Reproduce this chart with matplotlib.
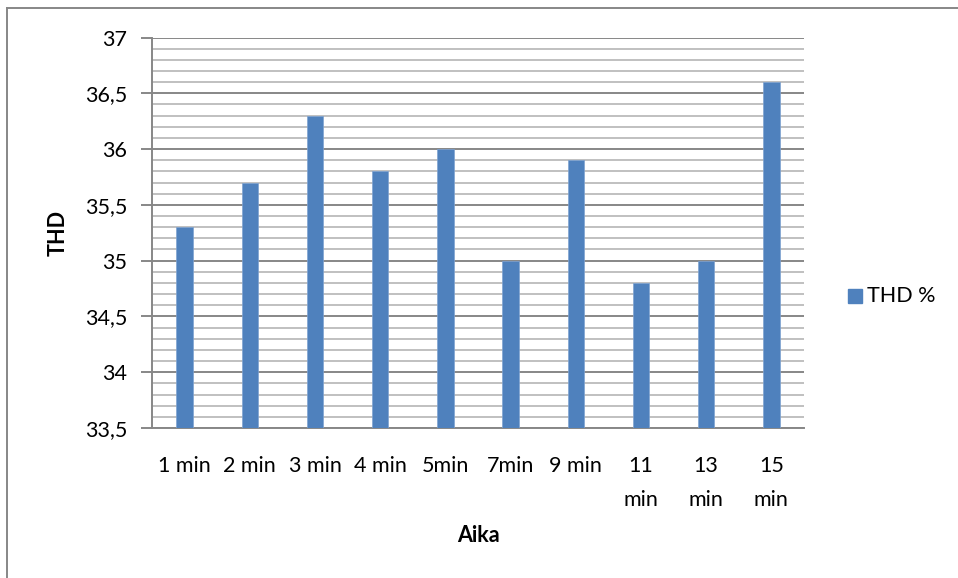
import matplotlib
matplotlib.use("Agg")
import matplotlib.pyplot as plt
from matplotlib.ticker import MultipleLocator, FuncFormatter
from matplotlib.lines import Line2D
from matplotlib.patches import Rectangle

# Data
categories = ["1 min", "2 min", "3 min", "4 min", "5min", "7min", "9 min",
              "11 min", "13 min", "15 min"]
thd_values = [35.3, 35.7, 36.3, 35.8, 36.0, 35.0, 35.9, 34.8, 35.0, 36.6]
series_name = "THD %"
x_title = "Aika"
y_title = "THD"

BAR = "#4F81BD"
MAJOR = "#878787"
MINOR = "#C0C0C0"
FS = 15.5

plt.rcParams["font.family"] = ["Lato", "DejaVu Sans"]

W, H = 958, 578
fig = plt.figure(figsize=(W / 100, H / 100), dpi=100)
ax = fig.add_axes([152 / W, 1 - 428 / H, (804 - 152) / W, (428 - 37.5) / H])

x = list(range(len(categories)))
ax.bar(x, [v - 33.5 for v in thd_values], bottom=33.5, width=0.25,
       color=BAR, edgecolor="#7FA3D1", linewidth=0.5, zorder=3)

ax.set_xlim(-0.5, len(categories) - 0.5)
ax.set_ylim(33.5, 37)
ax.yaxis.set_major_locator(MultipleLocator(0.5))
ax.yaxis.set_minor_locator(MultipleLocator(0.1))
ax.yaxis.set_major_formatter(FuncFormatter(lambda v, p: f"{v:g}".replace(".", ",")))

ax.grid(which="major", axis="y", color=MAJOR, linewidth=1.4, zorder=1)
ax.grid(which="minor", axis="y", color=MINOR, linewidth=1.4, zorder=1)
ax.set_axisbelow(True)

for s in ("top", "right"):
    ax.spines[s].set_visible(False)
ax.spines["left"].set_color(MAJOR)
ax.spines["left"].set_linewidth(1.4)
ax.spines["bottom"].set_color(MAJOR)
ax.spines["bottom"].set_linewidth(1.4)

ax.tick_params(axis="y", which="major", length=8, width=1.4, color=MAJOR,
               labelsize=FS, pad=10, labelcolor="black")
ax.tick_params(axis="y", which="minor", length=0)
ax.tick_params(axis="x", length=0, labelsize=FS, pad=20)


def wrap(label):
    num, unit = label.split(" ") if " " in label else (label, "")
    return f"{num}\n{unit}" if len(num) > 1 and unit else label


ax.set_xticks(x)
ax.set_xticklabels([wrap(c) for c in categories], linespacing=1.9, va="top")

fig.text(478 / W, 1 - 536 / H, x_title, ha="center", va="center",
         fontsize=FS, fontweight="bold")
fig.text(58 / W, 1 - 233 / H, y_title, ha="center", va="center",
         rotation=90, fontsize=FS, fontweight="bold")

# Legend
fig.patches.append(Rectangle((848 / W, 1 - 303 / H), 14 / W, 14 / H,
                             transform=fig.transFigure, color=BAR))
fig.text(867 / W, 1 - 296 / H, series_name, ha="left", va="center", fontsize=FS)

# Chart-area border
fig.lines.append(Line2D([6.5 / W, 6.5 / W], [0, 1 - 8 / H], transform=fig.transFigure,
                        color=MAJOR, linewidth=1.4))
fig.lines.append(Line2D([6.5 / W, 1], [1 - 8 / H, 1 - 8 / H], transform=fig.transFigure,
                        color=MAJOR, linewidth=1.4))

fig.savefig("out.png", dpi=100)
